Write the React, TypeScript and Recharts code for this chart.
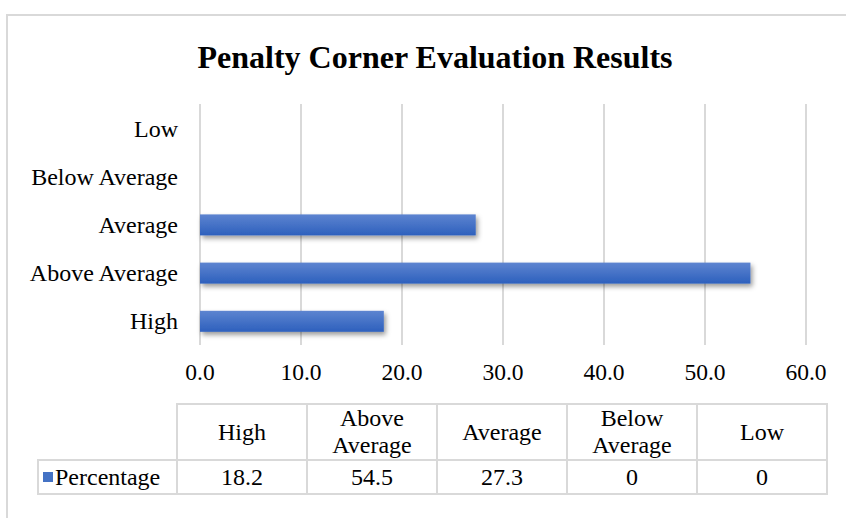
import React from "react";
import { BarChart, Bar, XAxis, YAxis, CartesianGrid } from "recharts";

const categories = ["High", "Above Average", "Average", "Below Average", "Low"];
const percentages = [18.2, 54.5, 27.3, 0, 0];
const xTicks = [0, 10, 20, 30, 40, 50, 60];
const seriesName = "Percentage";

const FONT = "'Liberation Serif', 'Times New Roman', serif";
const GRID = "#d9d9d9";

const data = categories.map((name, i) => ({ name, value: percentages[i] }));

const BarShape = (props: any) => {
  const { x, y, width, height } = props;
  if (!width || width <= 0) return null;
  return (
    <rect
      x={x}
      y={y}
      width={width}
      height={height}
      fill="url(#barGrad)"
      filter="url(#barShadow)"
    />
  );
};

const cellStyle: React.CSSProperties = {
  border: `2px solid ${GRID}`,
  width: 128,
  textAlign: "center",
  padding: 0,
  lineHeight: "27px",
};

export default function App() {
  return (
    <div
      style={{
        position: "absolute",
        left: 0,
        top: 0,
        width: 846,
        height: 518,
        background: "#fff",
        overflow: "hidden",
        fontFamily: FONT,
      }}
    >
      {/* chart frame */}
      <div
        style={{
          position: "absolute",
          left: 6,
          top: 14,
          width: 860,
          height: 520,
          border: `2px solid ${GRID}`,
          boxSizing: "border-box",
        }}
      />
      <div
        style={{
          position: "absolute",
          left: 0,
          width: 870,
          top: 38,
          textAlign: "center",
          fontSize: 32,
          lineHeight: "38px",
          fontWeight: "bold",
          color: "#000",
        }}
      >
        Penalty Corner Evaluation Results
      </div>
      <div style={{ position: "absolute", left: 0, top: 0 }}>
        <BarChart
          width={846}
          height={400}
          data={data}
          layout="vertical"
          margin={{ top: 104, right: 40, bottom: 0, left: 0 }}
        >
          <defs>
            <linearGradient id="barGrad" x1="0" y1="0" x2="0" y2="1">
              <stop offset="0%" stopColor="#5d84d0" />
              <stop offset="100%" stopColor="#2d60bd" />
            </linearGradient>
            <filter id="barShadow" x="-10%" y="-30%" width="130%" height="190%">
              <feDropShadow dx="2" dy="3" stdDeviation="2.5" floodColor="#000" floodOpacity="0.4" />
            </filter>
          </defs>
          <CartesianGrid horizontal={false} stroke={GRID} strokeWidth={2} />
          <XAxis
            type="number"
            domain={[0, 60]}
            ticks={xTicks}
            tickFormatter={(v: number) => v.toFixed(1)}
            axisLine={false}
            tickLine={false}
            height={55}
            tickMargin={12}
            tick={{ fill: "#000", fontSize: 23.5, fontFamily: FONT }}
          />
          <YAxis
            type="category"
            dataKey="name"
            reversed
            width={200}
            axisLine={false}
            tickLine={false}
            tickMargin={16}
            tick={{ fill: "#000", fontSize: 24, fontFamily: FONT }}
          />
          <Bar
            dataKey="value"
            name={seriesName}
            barSize={21}
            shape={BarShape}
            isAnimationActive={false}
          />
        </BarChart>
      </div>
      <table
        style={{
          position: "absolute",
          left: 37,
          top: 403,
          borderCollapse: "collapse",
          fontSize: 24,
          color: "#000",
          fontFamily: FONT,
        }}
      >
        <tbody>
          <tr style={{ height: 55 }}>
            <td style={{ ...cellStyle, width: 137, border: "none", borderRight: `2px solid ${GRID}`, borderBottom: `2px solid ${GRID}` }} />
            {categories.map((c) => (
              <td key={c} style={cellStyle}>
                <div style={{ width: 112, margin: "0 auto" }}>{c}</div>
              </td>
            ))}
          </tr>
          <tr style={{ height: 34 }}>
            <td style={{ ...cellStyle, width: 137, textAlign: "left", whiteSpace: "nowrap", lineHeight: "30px" }}>
              <span
                style={{
                  display: "inline-block",
                  width: 10,
                  height: 10,
                  background: "#4472c4",
                  marginLeft: 4,
                  marginRight: 2,
                  verticalAlign: "middle",
                  position: "relative",
                  top: -2,
                }}
              />
              {seriesName}
            </td>
            {percentages.map((v, i) => (
              <td key={i} style={{ ...cellStyle, lineHeight: "30px" }}>
                {String(v)}
              </td>
            ))}
          </tr>
        </tbody>
      </table>
    </div>
  );
}
